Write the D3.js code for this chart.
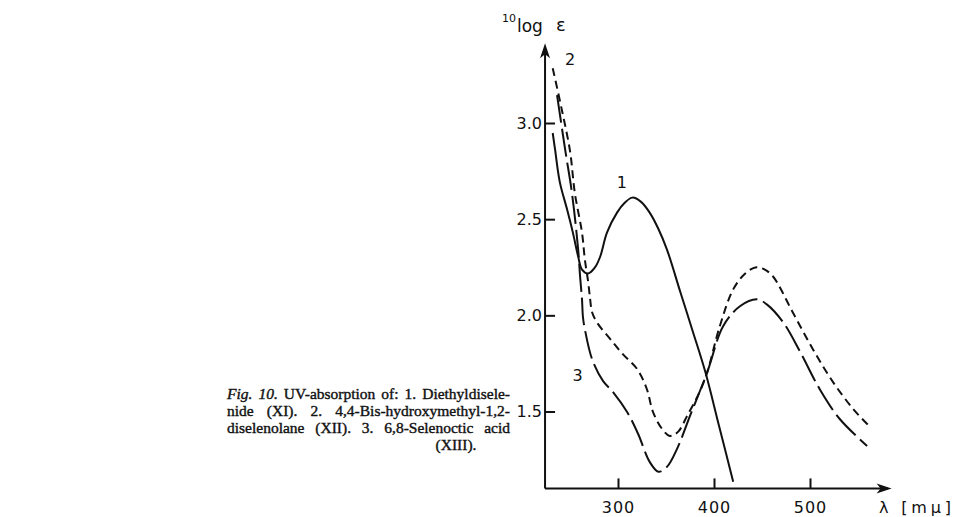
<!DOCTYPE html>
<html><head><meta charset="utf-8">
<script src="https://cdn.jsdelivr.net/npm/d3@7"></script>
<style>html,body{margin:0;padding:0;background:#fff;} svg{display:block}</style>
</head><body>
<svg id="c" width="954" height="517"></svg>
<script>
// ---- data ----
const xTicks = [300, 400, 500];
const yTicks = [1.5, 2.0, 2.5, 3.0];
const yTickLabels = ["1.5", "2.0", "2.5", "3.0"];

// Curve 1: Diethyldiselenide (solid)
const curve1Lambda = [232, 234.5, 239.5, 247, 253, 258.5, 262.5, 269, 276, 281.5, 288.5, 299, 307, 315, 324, 333, 342, 351, 365, 378, 391, 405, 420];
const curve1LogE   = [2.948, 2.86, 2.69, 2.55, 2.43, 2.306, 2.238, 2.218, 2.249, 2.306, 2.43, 2.534, 2.585, 2.612, 2.59, 2.534, 2.45, 2.342, 2.12, 1.915, 1.705, 1.43, 1.135];

// Curve 2: 4,4-Bis-hydroxymethyl-1,2-diselenolane (short dashes)
const curve2Lambda = [232, 241, 250, 255, 262.5, 265.5, 269, 271, 273, 278, 292, 305, 320, 330, 336.5, 346, 354, 362.5, 372, 385, 393, 406, 420, 432, 443, 452, 461.5, 482, 503, 524, 545, 562.5];
const curve2LogE   = [3.285, 3.08, 2.855, 2.637, 2.43, 2.29, 2.171, 2.083, 2.016, 1.964, 1.876, 1.798, 1.72, 1.617, 1.497, 1.409, 1.373, 1.394, 1.477, 1.601, 1.705, 1.943, 2.135, 2.215, 2.249, 2.24, 2.202, 2.016, 1.824, 1.653, 1.513, 1.42];

// Curve 3: 6,8-Selenoctic acid (long dashes)
const curve3Lambda = [236.5, 245, 252, 258.5, 260.5, 262.5, 263.5, 265.5, 273, 284.5, 294, 309.5, 321, 333, 342, 351, 361.5, 376, 393, 409.5, 427, 445, 455, 472, 490, 510, 531, 559.5];
const curve3LogE   = [3.145, 2.86, 2.637, 2.342, 2.202, 2.083, 1.99, 1.927, 1.772, 1.658, 1.606, 1.497, 1.383, 1.238, 1.187, 1.212, 1.306, 1.49, 1.705, 1.943, 2.047, 2.083, 2.057, 1.964, 1.808, 1.617, 1.461, 1.321];

const curveLabels = ["1", "2", "3"];
const curveLabelLambda = [304, 250, 258];
const curveLabelLogE = [2.69, 3.33, 1.69];

const captionLines = [
  [{t: "Fig. 10.", i: true}, {t: " UV-absorption of: 1. Diethyldisele-"}],
  [{t: "nide (XI). 2. 4,4-Bis-hydroxymethyl-1,2-"}],
  [{t: "diselenolane (XII). 3. 6,8-Selenoctic acid"}],
  [{t: "(XIII)."}]
];

// ---- scales ----
const svg = d3.select("#c");
const x = d3.scaleLinear().domain([300, 500]).range([618, 810]);
const y = d3.scaleLinear().domain([1.5, 3.0]).range([411.5, 123]);
const xMin = 224, xMax = 585, yMin = 1.1, yMax = 3.415;

const ink = "#111";
const ax = svg.append("g").attr("stroke", ink).attr("stroke-width", 2).attr("fill", "none");
ax.append("line").attr("x1", x(xMin)).attr("x2", x(xMax) - 4).attr("y1", y(yMin)).attr("y2", y(yMin));
ax.append("line").attr("x1", x(xMin)).attr("x2", x(xMin)).attr("y1", y(yMin)).attr("y2", y(yMax) + 4);
svg.append("path").attr("fill", ink)
  .attr("d", `M${x(xMax)},${y(yMin)} L${x(xMax)-15},${y(yMin)-5} L${x(xMax)-11},${y(yMin)} L${x(xMax)-15},${y(yMin)+5} Z`);
svg.append("path").attr("fill", ink)
  .attr("d", `M${x(xMin)},${y(yMax)} L${x(xMin)-5},${y(yMax)+15} L${x(xMin)},${y(yMax)+11} L${x(xMin)+5},${y(yMax)+15} Z`);

const gx = svg.append("g").attr("transform", `translate(0,${y(yMin)})`)
  .call(d3.axisBottom(x).tickValues(xTicks).tickSize(-10).tickPadding(13).tickFormat(d3.format("d")));
gx.select(".domain").remove();
gx.selectAll("line").attr("stroke", ink).attr("stroke-width", 2);
gx.selectAll("text").attr("fill", ink).attr("font-family", "DejaVu Sans").attr("font-size", 16).attr("letter-spacing", 1);

const gy = svg.append("g").attr("transform", `translate(${x(xMin)},0)`)
  .call(d3.axisLeft(y).tickValues(yTicks).tickSize(-10).tickPadding(3).tickFormat((d, i) => yTickLabels[i]));
gy.select(".domain").remove();
gy.selectAll("line").attr("stroke", ink).attr("stroke-width", 2);
gy.selectAll("text").attr("fill", ink).attr("font-family", "DejaVu Sans").attr("font-size", 16);

const yt = svg.append("text").attr("font-family", "DejaVu Sans").attr("fill", ink);
yt.append("tspan").attr("x", 502).attr("y", 22).attr("font-size", 11).text("10");
yt.append("tspan").attr("x", 517).attr("y", 32).attr("font-size", 17).text("log");
yt.append("tspan").attr("x", 556).attr("y", 31).attr("font-size", 18).text("ε");

svg.append("text").attr("x", 879).attr("y", 513).attr("font-family", "DejaVu Sans").attr("font-size", 16)
  .attr("fill", ink).attr("textLength", 72).attr("lengthAdjust", "spacing").text("λ [mμ]");

const line = d3.line().x(d => x(d[0])).y(d => y(d[1])).curve(d3.curveCatmullRom.alpha(0.5));
const series = [
  {lam: curve1Lambda, v: curve1LogE, dash: null},
  {lam: curve2Lambda, v: curve2LogE, dash: "8,5"},
  {lam: curve3Lambda, v: curve3LogE, dash: "28,6"}
];
series.forEach(s => {
  svg.append("path")
    .attr("d", line(s.lam.map((l, i) => [l, s.v[i]])))
    .attr("fill", "none").attr("stroke", ink).attr("stroke-width", 2)
    .attr("stroke-dasharray", s.dash);
});

curveLabels.forEach((t, i) => {
  svg.append("text").attr("x", x(curveLabelLambda[i])).attr("y", y(curveLabelLogE[i]))
    .attr("dy", "0.36em").attr("text-anchor", "middle")
    .attr("font-family", "DejaVu Sans").attr("font-size", 16).attr("fill", ink).text(t);
});

// caption
const capLeft = 227, capRight = 510, capTop = 399, capStep = 17, capFont = 15.5;
captionLines.forEach((parts, li) => {
  const txt = svg.append("text").attr("y", capTop + li * capStep)
    .attr("font-family", "Liberation Serif").attr("font-size", capFont).attr("fill", ink)
    .attr("stroke", ink).attr("stroke-width", 0.4);
  parts.forEach(p => {
    const ts = txt.append("tspan").text(p.t);
    if (p.i) ts.attr("font-style", "italic");
  });
  const w = txt.node().getComputedTextLength();
  const target = capRight - capLeft;
  if (li < captionLines.length - 1) {
    txt.attr("x", capLeft);
    const full = parts.map(p => p.t).join("");
    const spaces = (full.match(/ /g) || []).length;
    if (w > target) {
      txt.attr("textLength", target).attr("lengthAdjust", "spacingAndGlyphs");
    } else if (spaces > 0) {
      txt.attr("word-spacing", (target - w) / spaces);
    }
  } else {
    txt.attr("x", 456).attr("text-anchor", "middle");
  }
});
</script>
</body></html>
